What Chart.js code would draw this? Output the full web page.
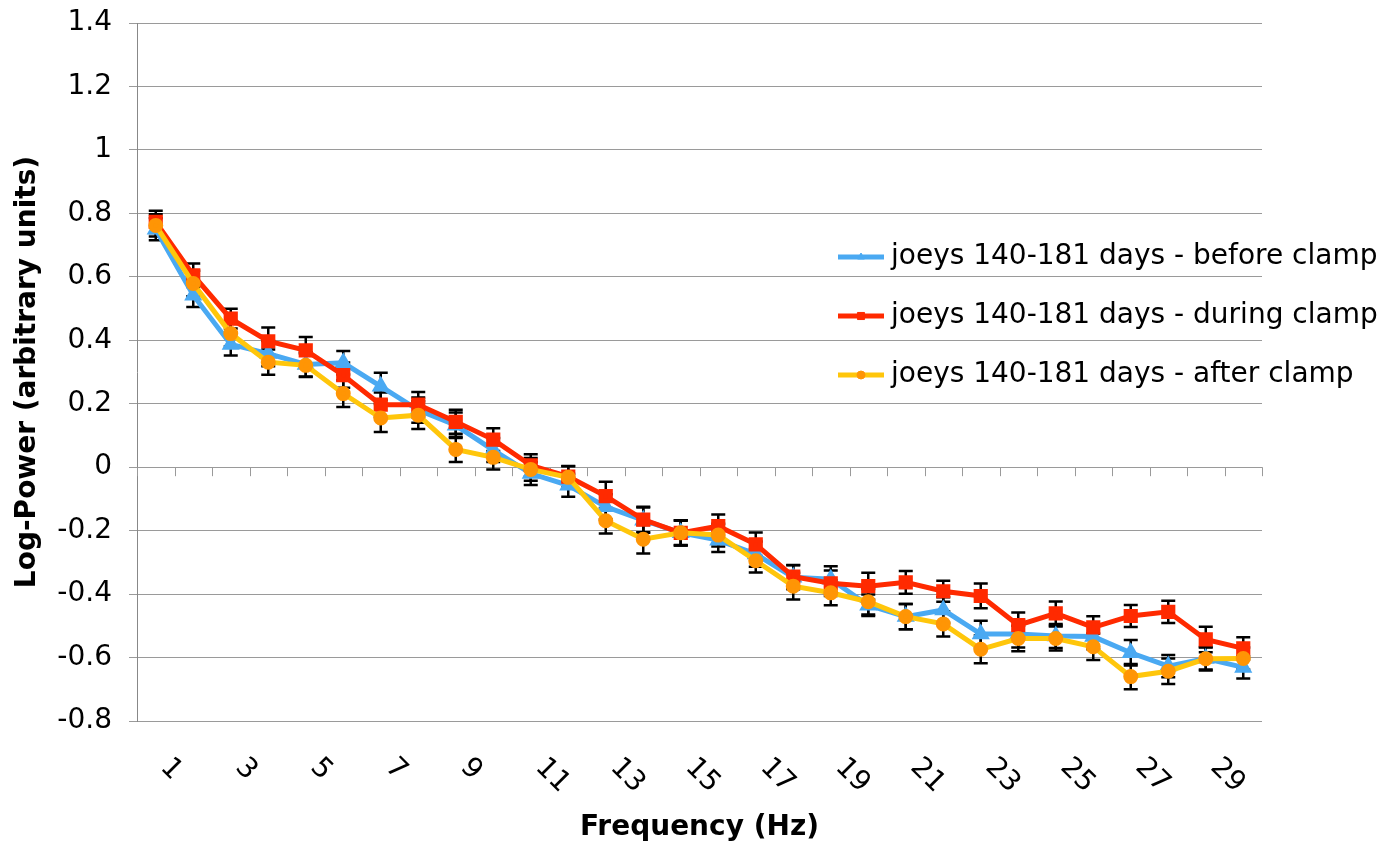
<!DOCTYPE html>
<html><head><meta charset="utf-8">
<script src="https://cdn.jsdelivr.net/npm/chart.js@4"></script>
<style>html,body{margin:0;padding:0;background:#fff}</style>
</head><body>
<canvas id="c" width="1384" height="848"></canvas>
<script>
const frequencies = [1,2,3,4,5,6,7,8,9,10,11,12,13,14,15,16,17,18,19,20,21,22,23,24,25,26,27,28,29,30];
const xTickLabels = ['1','3','5','7','9','11','13','15','17','19','21','23','25','27','29'];
const yTickValues = [-0.8,-0.6,-0.4,-0.2,0,0.2,0.4,0.6,0.8,1,1.2,1.4];
const seriesNames = ['joeys 140-181 days - before clamp','joeys 140-181 days - during clamp','joeys 140-181 days - after clamp'];

const before = [0.75,0.542,0.387,0.358,0.324,0.329,0.255,0.18,0.132,0.054,-0.020,-0.057,-0.125,-0.167,-0.207,-0.230,-0.274,-0.347,-0.353,-0.435,-0.471,-0.450,-0.526,-0.526,-0.532,-0.534,-0.585,-0.627,-0.603,-0.631];
const during = [0.773,0.605,0.468,0.397,0.368,0.290,0.197,0.197,0.143,0.087,0.006,-0.030,-0.091,-0.165,-0.207,-0.186,-0.243,-0.345,-0.366,-0.375,-0.363,-0.391,-0.406,-0.498,-0.461,-0.505,-0.469,-0.456,-0.543,-0.571];
const after = [0.762,0.579,0.421,0.331,0.321,0.232,0.155,0.164,0.056,0.031,-0.007,-0.032,-0.169,-0.227,-0.207,-0.214,-0.295,-0.375,-0.396,-0.424,-0.471,-0.494,-0.574,-0.540,-0.540,-0.566,-0.660,-0.643,-0.604,-0.603];

const beforeErr = [0.035,0.037,0.035,0.040,0.038,0.037,0.043,0.040,0.040,0.038,0.036,0.036,0.040,0.040,0.038,0.037,0.040,0.038,0.041,0.034,0.040,0.040,0.042,0.042,0.038,0.040,0.040,0.035,0.035,0.035];
const duringErr = [0.035,0.037,0.031,0.043,0.042,0.040,0.038,0.040,0.038,0.036,0.035,0.034,0.045,0.040,0.040,0.037,0.037,0.037,0.040,0.042,0.036,0.033,0.039,0.040,0.038,0.035,0.035,0.035,0.040,0.035];
const afterErr = [0.035,0.040,0.040,0.040,0.037,0.042,0.044,0.044,0.040,0.038,0.036,0.035,0.040,0.045,0.040,0.036,0.037,0.042,0.039,0.040,0.040,0.040,0.044,0.040,0.038,0.042,0.040,0.040,0.037,0.035];

const FONT = 'DejaVu Sans, Verdana, sans-serif';
const GRID = '#9a9a9a';

const errorBars = {
  id: 'errorBars',
  beforeDatasetsDraw(chart) {
    const ctx = chart.ctx, y = chart.scales.y;
    ctx.save();
    ctx.strokeStyle = '#000';
    ctx.lineWidth = 2.5;
    chart.data.datasets.forEach((ds, i) => {
      const meta = chart.getDatasetMeta(i);
      meta.data.forEach((pt, j) => {
        const v = ds.data[j], e = ds.errors[j];
        const yt = y.getPixelForValue(v + e), yb = y.getPixelForValue(v - e);
        ctx.beginPath();
        ctx.moveTo(pt.x, yt); ctx.lineTo(pt.x, yb);
        ctx.moveTo(pt.x - 7, yt); ctx.lineTo(pt.x + 7, yt);
        ctx.moveTo(pt.x - 7, yb); ctx.lineTo(pt.x + 7, yb);
        ctx.stroke();
      });
    });
    ctx.restore();
  }
};

const axisDecor = {
  id: 'axisDecor',
  beforeDatasetsDraw(chart) {
    const ctx = chart.ctx, xs = chart.scales.x, ys = chart.scales.y;
    const y0 = ys.getPixelForValue(0);
    ctx.save();
    ctx.strokeStyle = GRID;
    ctx.lineWidth = 1;
    ctx.beginPath();
    const n = frequencies.length;
    for (let i = 0; i <= n; i++) {
      let x;
      if (i === 0) x = chart.chartArea.left;
      else if (i === n) x = chart.chartArea.right;
      else x = (xs.getPixelForValue(i - 1) + xs.getPixelForValue(i)) / 2;
      x = Math.round(x) + 0.5;
      ctx.moveTo(x, y0); ctx.lineTo(x, y0 + 9);
    }
    ctx.stroke();
    ctx.restore();
  },
  afterDraw(chart) {
    const ctx = chart.ctx, xs = chart.scales.x;
    ctx.save();
    ctx.fillStyle = '#000';
    ctx.font = '28px ' + FONT;
    ctx.textAlign = 'left';
    ctx.textBaseline = 'middle';
    frequencies.forEach((f, i) => {
      if (!xTickLabels.includes(String(f))) return;
      const x = xs.getPixelForValue(i);
      ctx.save();
      ctx.translate(x + 9, chart.chartArea.bottom + 42);
      ctx.rotate(Math.PI / 4);
      ctx.fillText(String(f), 0, 0);
      ctx.restore();
    });
    // legend
    const ly0 = 257, dy = 59;
    chart.data.datasets.forEach((ds, i) => {
      const ly = ly0 + i * dy;
      ctx.strokeStyle = ds.borderColor;
      ctx.lineWidth = 5;
      ctx.beginPath(); ctx.moveTo(838, ly); ctx.lineTo(884, ly); ctx.stroke();
      ctx.fillStyle = ds.pointBackgroundColor;
      ctx.strokeStyle = ds.pointBorderColor;
      ctx.lineWidth = 1;
      Chart.helpers.drawPoint(ctx, {pointStyle: ds.pointStyle, radius: ds.legendRadius, borderWidth: 1, rotation: 0}, 861, ly);
      ctx.fillStyle = '#000';
      ctx.font = '28px ' + FONT;
      ctx.textBaseline = 'middle';
      ctx.fillText(ds.label, 891, ly);
    });
    ctx.restore();
  }
};

new Chart(document.getElementById('c'), {
  type: 'line',
  data: {
    labels: frequencies.map(String),
    datasets: [
      {label: seriesNames[0], data: before, errors: beforeErr, borderColor: '#4AA9F2', backgroundColor: '#4AA9F2',
       pointBackgroundColor: '#4AA9F2', pointBorderColor: '#4AA9F2', pointStyle: 'triangle', pointRadius: 5.5, legendRadius: 4,
       borderWidth: 5, order: 3},
      {label: seriesNames[1], data: during, errors: duringErr, borderColor: '#FF2A00', backgroundColor: '#FF2A00',
       pointBackgroundColor: '#FF2A00', pointBorderColor: '#FF2A00', pointStyle: 'rect', pointRadius: 6.5, legendRadius: 5,
       borderWidth: 5, order: 2},
      {label: seriesNames[2], data: after, errors: afterErr, borderColor: '#FFC60B', backgroundColor: '#FF9505',
       pointBackgroundColor: '#FF9505', pointBorderColor: '#FF9505', pointStyle: 'circle', pointRadius: 5, legendRadius: 4,
       borderWidth: 5, order: 1}
    ]
  },
  options: {
    responsive: false,
    devicePixelRatio: 1,
    animation: false,
    layout: {padding: {top: 23, right: 122, bottom: 0, left: 0}},
    plugins: {legend: {display: false}, tooltip: {enabled: false}},
    elements: {line: {tension: 0}, point: {borderWidth: 1}},
    scales: {
      x: {
        type: 'category',
        offset: true,
        grid: {display: false, offset: true},
        border: {display: false},
        ticks: {display: false},
        title: {display: true, text: 'Frequency (Hz)', color: '#000',
                font: {family: FONT, size: 28, weight: 'bold'}, padding: {top: 0, bottom: 3}},
        afterFit(scale) { scale.height = 127; scale.paddingLeft = 0; scale.paddingRight = 0; }
      },
      y: {
        min: -0.8, max: 1.4,
        afterBuildTicks(scale) { scale.ticks = yTickValues.map(v => ({value: v})); },
        grid: {color: GRID, lineWidth: 1, tickLength: 8},
        border: {display: true, color: '#888', width: 1},
        ticks: {color: '#000', font: {family: FONT, size: 28}, padding: 17,
                callback: v => String(Number(Number(v).toFixed(1)))},
        title: {display: true, text: 'Log-Power (arbitrary units)', color: '#000',
                font: {family: FONT, size: 28, weight: 'bold'}, padding: {top: 11, bottom: 0}},
        afterFit(scale) { scale.width = 137; scale.paddingTop = 0; scale.paddingBottom = 0; }
      }
    }
  },
  plugins: [errorBars, axisDecor]
});
</script>
</body></html>
